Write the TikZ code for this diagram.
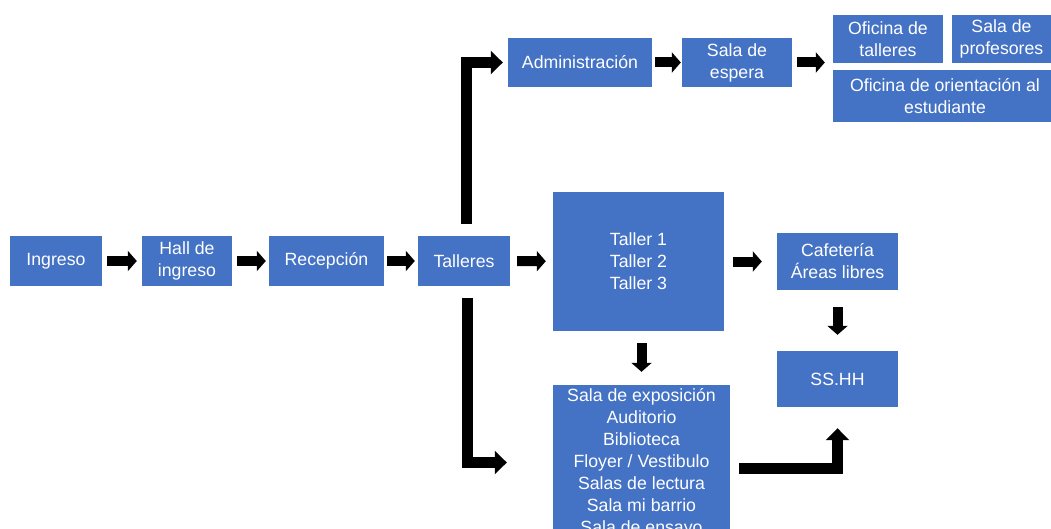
\documentclass[tikz,border=0pt]{standalone}
\usepackage{fontspec}
\setmainfont{Liberation Sans}
\usetikzlibrary{arrows.meta}
\definecolor{boxblue}{HTML}{4472C4}
\begin{document}
\begin{tikzpicture}[x=1pt,y=-1pt,
  box/.style={fill=boxblue, text=white, inner sep=0pt, align=center, font=\fontsize{17.7}{22}\selectfont},
  sarrow/.style={line width=10pt, -{Triangle[length=9pt,width=20pt]}},
  barrow/.style={line width=11pt, line join=miter, -{Triangle[length=12pt,width=23pt]}}]
\useasboundingbox (0,0) rectangle (1051,529);
\fill[white] (0,0) rectangle (1051,529);
\clip (0,0) rectangle (1051,529);
% main row
\node[box, minimum width=92pt, minimum height=50pt] (ingreso) at (56,261) {Ingreso};
\node[box, minimum width=90pt, minimum height=50pt] (hall) at (187,261) {Hall de\\ingreso};
\node[box, minimum width=115pt, minimum height=50pt] (recep) at (326.5,261) {Recepción};
\node[box, minimum width=92pt, minimum height=50pt] (talleres) at (464,261) {Talleres};
% top row
\node[box, minimum width=144pt, minimum height=49pt] (admin) at (580,62.5) {Administración};
\node[box, minimum width=110pt, minimum height=49pt] (espera) at (737,62.5) {Sala de\\espera};
\node[box, minimum width=110pt, minimum height=48pt] (oftall) at (888,39) {Oficina de\\talleres};
\node[box, minimum width=99pt, minimum height=48pt] (prof) at (1001.5,39) {Sala de\\profesores};
\node[box, minimum width=224pt, minimum height=52pt] (orient) at (945,96) {Oficina de orientación al\\estudiante};
% right part
\node[box, minimum width=171pt, minimum height=139pt] (taller) at (638.5,261.5) {Taller 1\\Taller 2\\Taller 3};
\node[box, minimum width=121pt, minimum height=57pt] (cafe) at (837.5,261.5) {Cafetería\\Áreas libres};
\node[box, minimum width=121pt, minimum height=56pt] (ss) at (837.5,379) {SS.HH};
\node[box, minimum width=177pt, minimum height=155pt] (expo) at (641.5,462.5) {Sala de exposición\\Auditorio\\Biblioteca\\Floyer / Vestibulo\\Salas de lectura\\Sala mi barrio\\Sala de ensayo};
% straight arrows
\draw[sarrow, shorten <=5pt, shorten >=5pt] (ingreso) -- (hall);
\draw[sarrow, shorten <=5pt, shorten >=3pt] (hall) -- (recep);
\draw[sarrow, shorten <=3pt, shorten >=3pt] (recep) -- (talleres);
\draw[sarrow, shorten <=7pt, shorten >=7pt] (talleres) -- (taller);
\draw[sarrow, shorten <=9pt, shorten >=15pt] (taller) -- (cafe);
\draw[sarrow, shorten <=3pt, shorten >=1pt] (admin) -- (espera);
\draw[sarrow, shorten <=5pt, shorten >=8pt] (espera.east) -- (espera.east -| oftall.west);
\draw[sarrow, shorten <=12pt, shorten >=13pt] (expo.north |- taller.south) -- (expo.north);
\draw[sarrow, shorten <=17pt, shorten >=16pt] (cafe) -- (ss);
% bent arrows
\draw[barrow, shorten <=12pt, shorten >=5pt] ([xshift=2pt]talleres.north) |- (admin.west);
\draw[barrow, shorten <=12pt, shorten >=46pt] ([xshift=3pt]talleres.south) |- (expo.west);
\draw[barrow, shorten <=9pt, shorten >=21pt] ([yshift=-6pt]expo.east) -| (ss.south);
\end{tikzpicture}
\end{document}
